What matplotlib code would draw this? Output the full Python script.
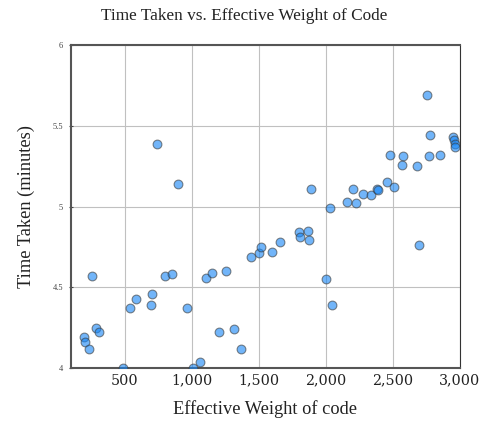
import matplotlib
matplotlib.use("Agg")
import matplotlib.pyplot as plt
from matplotlib.ticker import FuncFormatter

weight = [746, 900, 2759, 2782, 2955, 2960, 2965, 2970, 2483, 2576, 2573, 2680, 2769, 2856,
          1890, 2034, 2158, 2225, 2207, 2280, 2337, 2382, 2389, 2456, 2513,
          199, 202, 236, 256, 291, 313, 490, 544, 585, 699, 704, 805, 853, 965, 1010, 1064,
          1109, 1156, 1208, 1260, 1318, 1372, 1444, 1502, 1521,
          1601, 1663, 1800, 1808, 1872, 1875, 2001, 2046, 2700]
time_taken = [5.39, 5.14, 5.69, 5.44, 5.43, 5.41, 5.39, 5.37, 5.32, 5.31, 5.26, 5.25, 5.31, 5.32,
              5.11, 4.99, 5.03, 5.02, 5.11, 5.08, 5.07, 5.11, 5.10, 5.15, 5.12,
              4.19, 4.16, 4.12, 4.57, 4.25, 4.22, 4.00, 4.37, 4.43, 4.39, 4.46, 4.57, 4.58, 4.37, 4.00, 4.04,
              4.56, 4.59, 4.22, 4.60, 4.24, 4.12, 4.69, 4.71, 4.75,
              4.72, 4.78, 4.84, 4.81, 4.85, 4.79, 4.55, 4.39, 4.76]
x_ticks = [500, 1000, 1500, 2000, 2500, 3000]
y_ticks = [4, 4.5, 5, 5.5, 6]

plt.rcParams['font.family'] = ['Liberation Serif', 'DejaVu Serif']
fig = plt.figure(figsize=(4.89, 4.24), dpi=100)
ax = fig.add_axes([0.145, 0.132, 0.7947, 0.7619])

ax.scatter(weight, time_taken, s=40, facecolor='#1585f5', alpha=0.6,
           edgecolor='#3a3a3a', linewidth=0.8, zorder=3)

ax.set_xlim(100, 3000)
ax.set_ylim(4, 6)
ax.set_xticks(x_ticks)
ax.set_yticks(y_ticks)
ax.xaxis.set_major_formatter(FuncFormatter(lambda v, p: f"{int(v):,}"))
ax.yaxis.set_major_formatter(FuncFormatter(lambda v, p: f"{v:g}"))
ax.grid(True, color='#c0c0c0', linewidth=0.8, zorder=0)
ax.set_axisbelow(True)

for lbl in ax.get_xticklabels():
    lbl.set_fontfamily(['DejaVu Serif'])
ax.tick_params(axis='x', labelsize=10.3, length=0, pad=4, colors='#222222')
ax.tick_params(axis='y', labelsize=6, length=3, direction='inout', pad=4,
               colors='#444444', labelcolor='#444444')
for side in ['left', 'bottom', 'top']:
    ax.spines[side].set_color('#555555')
    ax.spines[side].set_linewidth(1.5)
ax.spines['right'].set_color('#333333')
ax.spines['right'].set_linewidth(0.8)

ax.set_xlabel('Effective Weight of code', fontsize=13.2, labelpad=9, color='#222222')
ax.set_ylabel('Time Taken (minutes)', fontsize=13.2, labelpad=13, color='#222222')
fig.text(0.5, 1 - 16 / 424, 'Time Taken vs. Effective Weight of Code',
         fontsize=12.4, ha='center', va='center', color='#222222')

fig.savefig('out.png', dpi=100)
